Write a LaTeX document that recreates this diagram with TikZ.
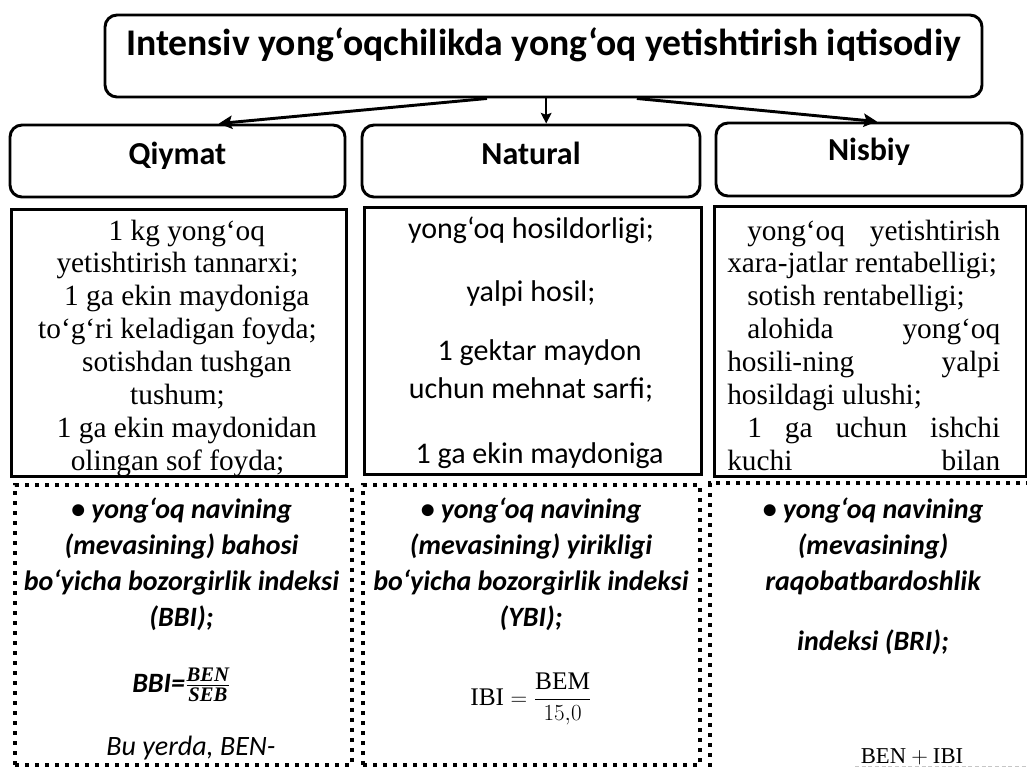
\documentclass[tikz,border=0pt]{standalone}
\usepackage{amsmath}
\usepackage{fontspec}
\setmainfont{Liberation Serif}
\newfontfamily\calibfont{Carlito}
\usetikzlibrary{arrows.meta, positioning}

\begin{document}
\begin{tikzpicture}[x=0.75pt, y=-0.75pt,
  hbox/.style={draw, line width=2.2pt, rounded corners=9pt, inner sep=0pt, anchor=base,
    font=\calibfont\bfseries\fontsize{24}{28}\selectfont},
  cbox/.style={draw, line width=2.2pt, inner sep=0pt, anchor=north west},
  dbox/.style={draw, line width=3pt, dash pattern=on 3pt off 4.5pt, inner sep=0pt, anchor=north west},
  dline/.style={line width=3pt, dash pattern=on 3pt off 4.5pt},
  arr/.style={-{Stealth[length=10pt, width=10pt, inset=2pt]}, line width=2.2pt},
  serif/.style={font=\fontsize{22}{24.7}\selectfont, inner sep=0pt, anchor=base},
  sans/.style={font=\calibfont\fontsize{22.5}{28.5}\selectfont, inner sep=0pt, anchor=base},
  boldit/.style={font=\calibfont\bfseries\itshape\fontsize{21}{27}\selectfont, inner sep=0pt, anchor=base}]
\useasboundingbox (0,0) rectangle (1027,769);

% top box and the three groups
\node[hbox, font=\calibfont\bfseries\fontsize{28.25}{33}\selectfont, minimum width=657.75pt,
  text height=30pt, text depth=31.5pt] (title) at (543.5,55) {Intensiv yong‘oqchilikda yong‘oq yetishtirish iqtisodiy};
\node[hbox, minimum width=251.25pt, text height=29.25pt, text depth=24.75pt] (qhead) at (177.5,164) {Qiymat};
\node[hbox, minimum width=253.5pt, text height=29.25pt, text depth=24.75pt] (nhead) at (531,164) {Natural};
\node[hbox, minimum width=229.5pt, text height=27.75pt, text depth=27pt] (shead) at (869,160) {Nisbiy};

\draw[arr] ([xshift=-42.4pt]title.south) -- ([xshift=31pt]qhead.north);
\draw[arr, line width=1.5pt, -{Stealth[length=8pt, width=8pt, inset=1.5pt]}] ([xshift=2pt]title.south) -- ([xshift=2pt]title.south |- nhead.north);
\draw[arr] ([xshift=70pt]title.south) -- ([xshift=6pt]shead.north);

% indicator lists
\node[cbox, minimum width=251.25pt, minimum height=200.25pt] (qbox) at (10,208) {};
\node[cbox, minimum width=252.75pt, minimum height=200.25pt] (nbox) at (363,206) {};
\node[cbox, minimum width=234pt, minimum height=202.5pt] (sbox) at (713,205) {};

\node[serif, text width=240pt, align=flush center] (qlist) at (177.5,240) {\hspace*{14pt}1 kg yong‘oq\\
yetishtirish tannarxi;\\
\hspace*{14pt}1 ga ekin maydoniga\\
to‘g‘ri keladigan foyda;\\
\hspace*{14pt}sotishdan tushgan\\
tushum;\\
\hspace*{14pt}1 ga ekin maydonidan\\
olingan sof foyda;};

\node[sans, text width=240pt, align=flush center] (nlist) at (531,238) {yong‘oq hosildorligi;\\[19pt]
yalpi hosil;\\[16pt]
\hspace*{13pt}1 gektar maydon\\
uchun mehnat sarfi;\\[20pt]
\hspace*{13pt}1 ga ekin maydoniga};

\node[serif, text width=204.75pt, align=justify, anchor=base west] (slist) at (727,240) {\hyphenpenalty=10000
\hspace*{15pt}yong‘oq yetishtirish\linebreak xara-jatlar rentabelligi;\par
\hspace*{15pt}sotish rentabelligi;\par
\hspace*{15pt}alohida yong‘oq\linebreak hosili-ning yalpi\linebreak hosildagi ulushi;\par
\parfillskip=0pt \hspace*{15pt}1 ga uchun ishchi\linebreak kuchi bilan\par};

% index boxes
\node[dbox, minimum width=252.75pt, minimum height=210pt] (qdot) at (13,483) {};
\node[dbox, minimum width=252.75pt, minimum height=210pt] (ndot) at (361,483) {};
\node[inner sep=0pt, minimum width=247.5pt, minimum height=212.25pt, anchor=north west] (sdot) at (710,483) {};
\draw[dline] (sdot.south west) -- (sdot.north west) -- (sdot.north east);
\draw[gray!45, line width=0.7pt, dash pattern=on 3pt off 2pt] ([xshift=108.75pt]sdot.south west) -- (sdot.south east);

\node[boldit, text width=250pt, align=flush center] (qdtext) at (181.5,518) {• yong‘oq navining\\
(mevasining) bahosi\\
bo‘yicha bozorgirlik indeksi\\
(BBI);};
\node[boldit] (qform) at (181.5,692) {BBI=$\frac{\text{\rmfamily\fontsize{15.5}{16}\selectfont BEN}}{\text{\rmfamily\fontsize{15.5}{16}\selectfont SEB}}$};
\node[boldit, font=\calibfont\itshape\fontsize{21}{27}\selectfont] (qnote) at (191,755) {Bu yerda, BEN-};

\node[boldit, text width=250pt, align=flush center] (ndtext) at (531,518) {• yong‘oq navining\\
(mevasining) yirikligi\\
bo‘yicha bozorgirlik indeksi\\
(YBI);};
\node[inner sep=0pt, anchor=base, font=\fontsize{19}{23}\selectfont] (nform) at (531,705) {$\mathrm{IBI}=\dfrac{\mathrm{BEM}}{15{,}0}$};

\node[boldit, text width=230pt, align=flush center] (sdtext) at (873,518) {• yong‘oq navining\\
(mevasining)\\
raqobatbardoshlik\\[18pt]
indeksi (BRI);};
\node[inner sep=0pt, anchor=base, font=\fontsize{17}{20}\selectfont] (sform) at (912,763) {$\mathrm{BEN}+\mathrm{IBI}$};
\end{tikzpicture}
\end{document}
